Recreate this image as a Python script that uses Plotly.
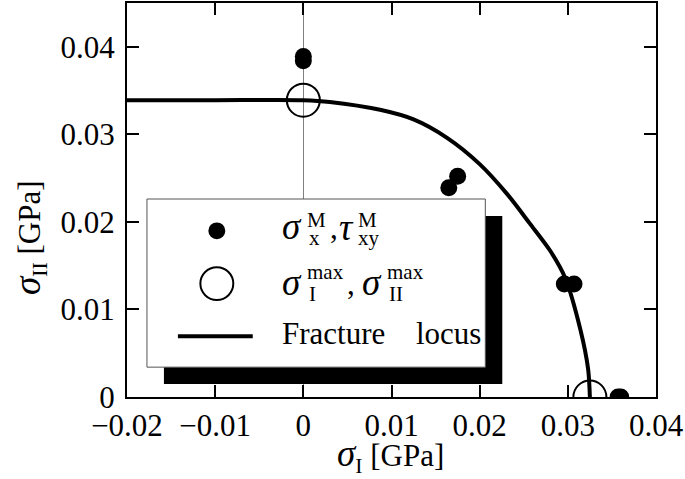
import plotly.graph_objects as go

# ---- data ----
dots_x = [0.0, 0.0, 0.0165, 0.0175, 0.0296, 0.0307, 0.0357, 0.0360]
dots_y = [0.0384, 0.0389, 0.0239, 0.0252, 0.0129, 0.0129, 0.0, 0.0]

max_x = [0.0, 0.0325]
max_y = [0.0339, 0.0]

locus_x = [-0.02, -0.01, 0.0, 0.0030, 0.0087, 0.0125, 0.0163, 0.0200, 0.0231,
           0.0257, 0.0280, 0.0297, 0.0314, 0.0323, 0.0325]
locus_y = [0.0339, 0.0339, 0.0339, 0.0337, 0.0328, 0.0317, 0.0296, 0.0266, 0.0232,
           0.0198, 0.0167, 0.0136, 0.0078, 0.0032, 0.0]

x_tickvals = [-0.02, -0.01, 0.0, 0.01, 0.02, 0.03, 0.04]
x_ticktext = ["\u22120.02", "\u22120.01", "0", "0.01", "0.02", "0.03", "0.04"]
y_tickvals = [0.0, 0.01, 0.02, 0.03, 0.04]
y_ticktext = ["0", "0.01", "0.02", "0.03", "0.04"]

FONT = "Liberation Serif, Times New Roman, serif"
FS = 31     # main text
GS = 37     # greek symbols
SS = 21     # sub/superscripts

# plot-area geometry in pixels
L, R, T, B = 127, 657, 1, 397
W, H = R - L, B - T


def px(x):
    return (x - L) / W


def py(y):
    return (B - y) / H


fig = go.Figure()
fig.add_trace(go.Scatter(x=locus_x, y=locus_y, mode="lines",
                         line=dict(color="black", width=4, shape="spline", smoothing=0.8),
                         showlegend=False))
fig.add_trace(go.Scatter(x=max_x, y=max_y, mode="markers",
                         marker=dict(symbol="circle-open", size=33, color="black",
                                     line=dict(color="black", width=2)),
                         showlegend=False))
fig.add_trace(go.Scatter(x=dots_x, y=dots_y, mode="markers",
                         marker=dict(symbol="circle", size=17, color="black",
                                     line=dict(width=0)),
                         showlegend=False))

axis_common = dict(showgrid=False, showline=True, linecolor="black", linewidth=2,
                   mirror="ticks", ticks="inside", ticklen=12, tickwidth=2,
                   tickcolor="black",
                   tickfont=dict(family=FONT, size=FS, color="black"))

fig.update_xaxes(range=[-0.02, 0.04], tickvals=x_tickvals, ticktext=x_ticktext,
                 zeroline=True, zerolinecolor="#808080", zerolinewidth=1,
                 **axis_common)
fig.update_yaxes(range=[0.0, 0.045], tickvals=y_tickvals, ticktext=y_ticktext,
                 zeroline=False, ticklabelstandoff=4, **axis_common)

shapes = []
# legend shadow and box
shapes.append(dict(type="rect", xref="paper", yref="paper",
                   x0=px(164), x1=px(503), y0=py(384), y1=py(215),
                   fillcolor="black", line=dict(width=0), layer="above"))
shapes.append(dict(type="rect", xref="paper", yref="paper",
                   x0=px(147), x1=px(486), y0=py(367), y1=py(198),
                   fillcolor="white", line=dict(color="#555555", width=1), layer="above"))
# legend symbols
shapes.append(dict(type="circle", xref="paper", yref="paper",
                   x0=px(217 - 8.5), x1=px(217 + 8.5), y0=py(230 + 8.5), y1=py(230 - 8.5),
                   fillcolor="black", line=dict(width=0), layer="above"))
shapes.append(dict(type="circle", xref="paper", yref="paper",
                   x0=px(217 - 16.5), x1=px(217 + 16.5), y0=py(283 + 16.5), y1=py(283 - 16.5),
                   fillcolor="white", line=dict(color="black", width=2), layer="above"))
shapes.append(dict(type="line", xref="paper", yref="paper",
                   x0=px(178), x1=px(253), y0=py(336), y1=py(336),
                   line=dict(color="black", width=4), layer="above"))

annotations = []


def txt(t, x, y, size=FS, xanchor="left", angle=0):
    annotations.append(dict(text=t, xref="paper", yref="paper", x=px(x), y=py(y),
                            xanchor=xanchor, yanchor="middle", showarrow=False,
                            textangle=angle, borderpad=0,
                            font=dict(family=FONT, size=size, color="black")))


# legend row 1
txt("<i>\u03c3</i>", 281, 226, GS)
txt("M", 306, 219, SS)
txt("x", 308, 237, SS)
txt(",", 329, 227)
txt("<i>\u03c4</i>", 338, 227, GS)
txt("M", 357, 219, SS)
txt("xy", 357, 237, SS)
# legend row 2
txt("<i>\u03c3</i>", 281, 282, GS)
txt("max", 306, 271, SS)
txt("I", 308, 293, SS)
txt(",", 346, 283)
txt("<i>\u03c3</i>", 361, 282, GS)
txt("max", 386, 271, SS)
txt("II", 388, 293, SS)
# legend row 3
txt("Fracture", 281, 333)
txt("locus", 483, 333, xanchor="right")

# axis titles
txt("<span style='font-size:37px'><i>\u03c3</i></span><sub>I</sub> [GPa]", 391, 456, xanchor="center")
txt("<span style='font-size:37px'><i>\u03c3</i></span><sub>II</sub> [GPa]", 30, 237, xanchor="center", angle=-90)

fig.update_layout(width=685, height=479,
                  margin=dict(l=L, r=685 - R, t=T, b=479 - B),
                  paper_bgcolor="white", plot_bgcolor="white",
                  showlegend=False, shapes=shapes, annotations=annotations,
                  font=dict(family=FONT, size=FS, color="black"))

fig.write_html("out.html")
